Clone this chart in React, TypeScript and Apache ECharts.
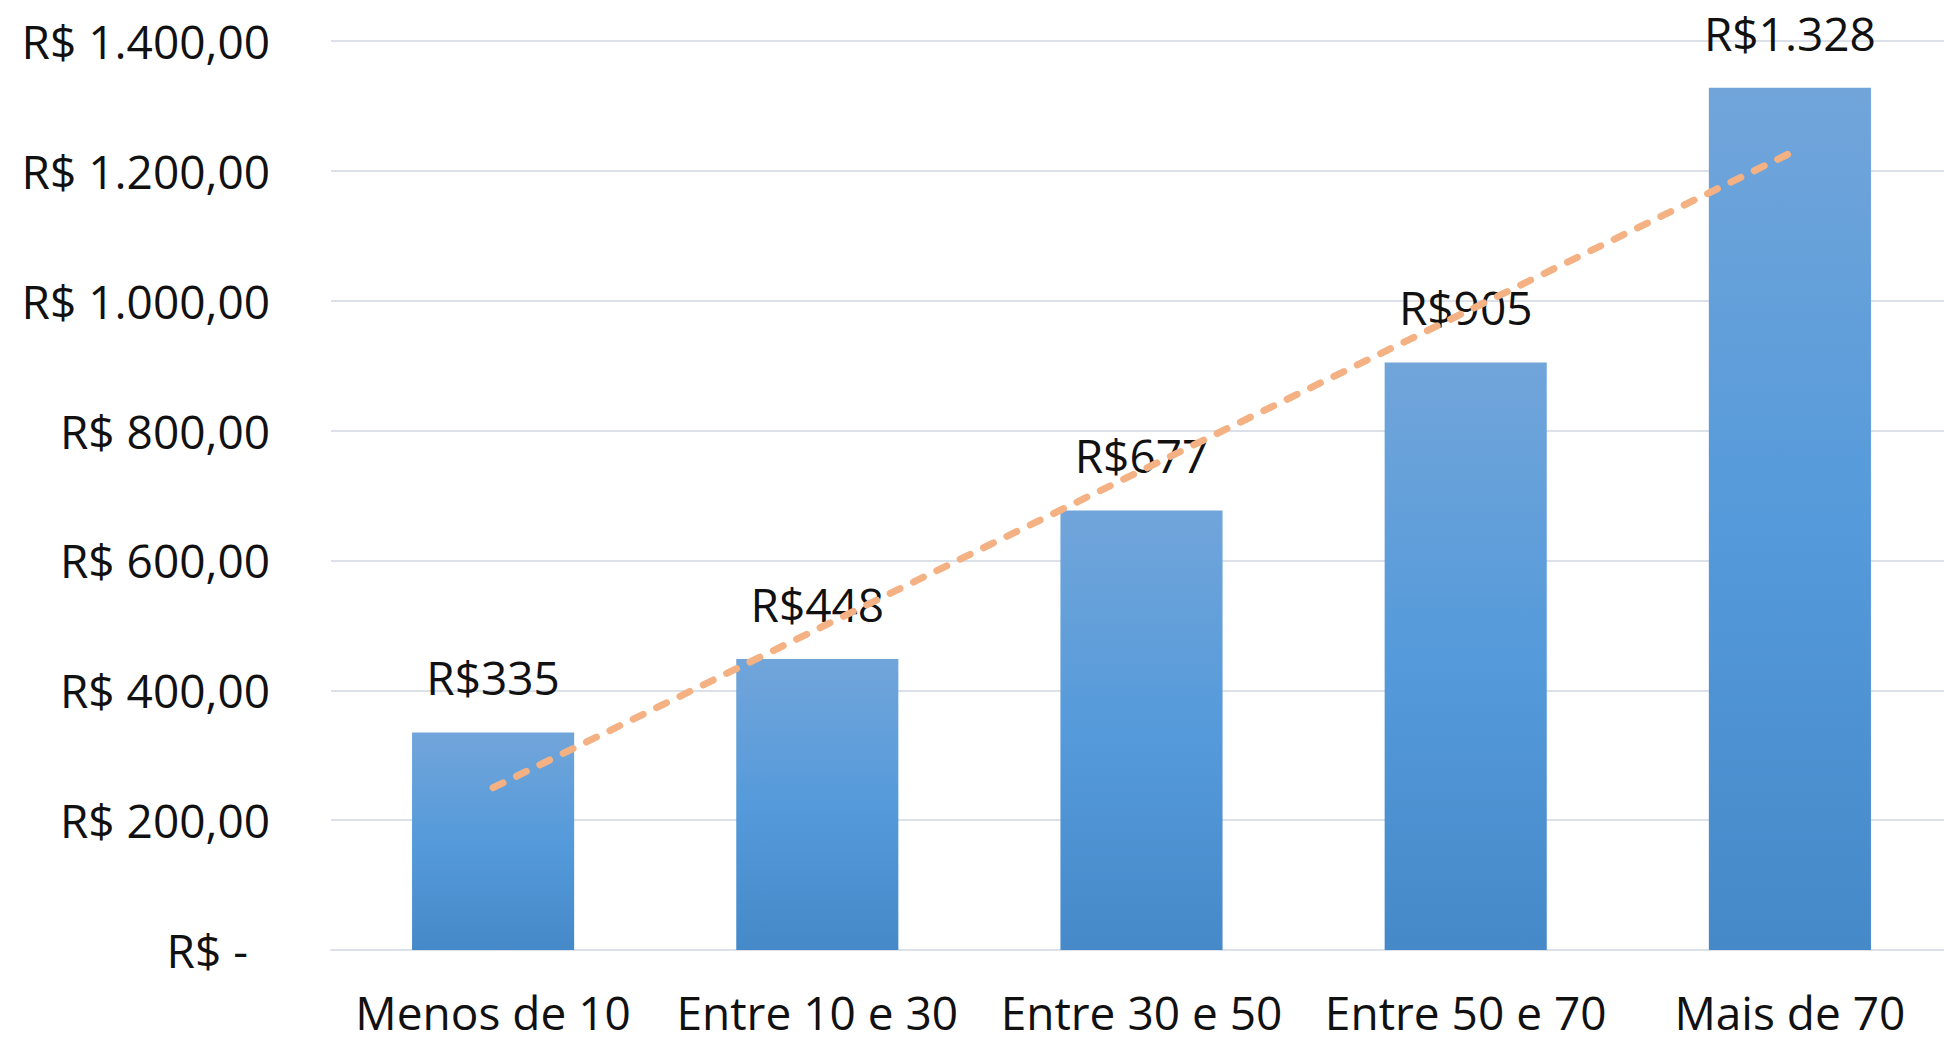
import React, { useEffect, useRef } from "react";
import * as echarts from "echarts";

const categories = ["Menos de 10", "Entre 10 e 30", "Entre 30 e 50", "Entre 50 e 70", "Mais de 70"];
const values = [335, 448, 677, 905, 1328];
// linear trendline (first and last category)
const trendValues: (number | null)[] = [250, null, null, null, 1227];
const yMin = 0;
const yMax = 1400;
const yInterval = 200;

const FONT = "'Open Sans', 'Liberation Sans', sans-serif";

function thousands(n: number): string {
  const s = Math.round(n).toString();
  return s.replace(/\B(?=(\d{3})+(?!\d))/g, ".");
}

export default function App() {
  const ref = useRef<HTMLDivElement>(null);
  useEffect(() => {
    if (!ref.current) return;
    const chart = echarts.init(ref.current, null, { renderer: "svg" });
    chart.setOption({
      animation: false,
      backgroundColor: "#ffffff",
      textStyle: { fontFamily: FONT },
      grid: {
        left: 331,
        top: 41,
        width: 1621,
        height: 909,
        containLabel: false,
        outerBoundsMode: "none",
      },
      xAxis: {
        type: "category",
        data: categories,
        axisTick: { show: false },
        axisLine: { show: true, lineStyle: { color: "#DCE0E9", width: 2 } },
        axisLabel: {
          interval: 0,
          hideOverlap: false,
          color: "#111111",
          fontSize: 46,
          lineHeight: 40,
          margin: 42,
          fontFamily: FONT,
        },
      },
      yAxis: {
        type: "value",
        min: yMin,
        max: yMax,
        interval: yInterval,
        axisLine: { show: false },
        axisTick: { show: false },
        splitLine: { lineStyle: { color: "#DCE0E9", width: 2 } },
        axisLabel: {
          color: "#111111",
          fontSize: 46,
          margin: 61,
          fontFamily: FONT,
          formatter: (v: number) => (v === 0 ? "{z|R$ -}" : "R$ " + thousands(v) + ",00"),
          rich: {
            z: { fontSize: 46, color: "#111111", fontFamily: FONT, padding: [0, 22, 0, 0] },
          },
        },
      },
      series: [
        {
          type: "bar",
          data: values,
          barWidth: "50%",
          itemStyle: {
            color: new echarts.graphic.LinearGradient(0, 0, 0, 1, [
              { offset: 0, color: "#71A5DA" },
              { offset: 0.5, color: "#559ADA" },
              { offset: 1, color: "#4589C9" },
            ]),
          },
          label: {
            show: true,
            position: "top",
            distance: 32,
            color: "#111111",
            fontSize: 46,
            lineHeight: 46,
            fontFamily: FONT,
            formatter: (p: any) => "R$" + thousands(p.value),
          },
          z: 2,
        },
        {
          type: "line",
          data: trendValues,
          connectNulls: true,
          symbol: "none",
          lineStyle: { color: "#F4B183", width: 7, type: [11, 15], cap: "round" },
          z: 3,
        },
      ],
    });
    return () => chart.dispose();
  }, []);
  return (
    <div
      ref={ref}
      style={{ position: "fixed", left: 0, top: 0, width: 1944, height: 1042, background: "#fff" }}
    />
  );
}
